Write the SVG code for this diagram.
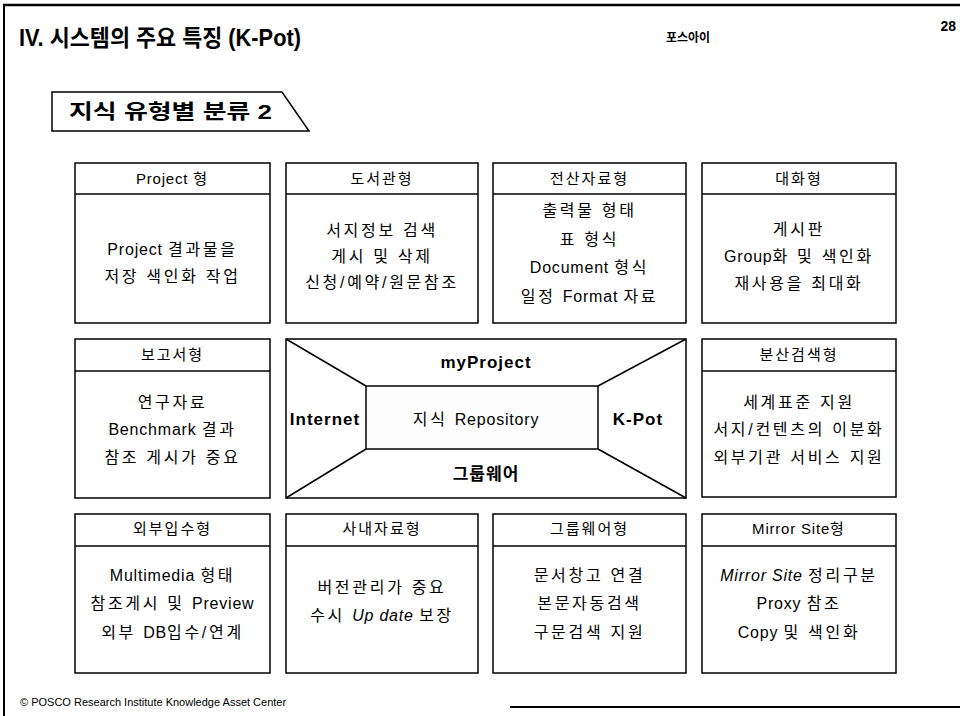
<svg xmlns="http://www.w3.org/2000/svg" width="960" height="716" viewBox="0 0 960 716">
<style>
text{font-family:"Liberation Sans","Noto Sans CJK KR",sans-serif;fill:#000}
.box{fill:#fff;stroke:#000;stroke-width:1.5}
.ln{stroke:#000;stroke-width:1.5;fill:none}
.h{font-size:15px;text-anchor:middle;letter-spacing:2px}
.b{font-size:16px;text-anchor:middle;letter-spacing:2.7px}
.l{letter-spacing:0.8px}
.i{font-style:italic}
.cb{font-size:17px;font-weight:bold;text-anchor:middle;letter-spacing:1px}
</style>
<rect width="960" height="716" fill="#fff"/>
<g id="frame">
<line x1="3" y1="5" x2="960" y2="5" stroke="#000" stroke-width="2.5"/>
<line x1="4" y1="4" x2="4" y2="716" stroke="#000" stroke-width="2"/>
<line x1="510" y1="707" x2="960" y2="707" stroke="#000" stroke-width="2"/>
</g>
<g id="title">
<text x="19" y="46" font-size="23" font-weight="bold" textLength="282" lengthAdjust="spacingAndGlyphs">IV. 시스템의 주요 특징 (K-Pot)</text>
<text x="688" y="42" font-size="12" font-weight="bold" text-anchor="middle">포스아이</text>
<text x="956" y="31" font-size="14" font-weight="bold" text-anchor="end">28</text>
</g>
<g id="heading">
<path d="M52 92 H282 L309 131 H52 Z" class="box"/>
<text x="69" y="119" font-size="20" font-weight="bold" textLength="203" lengthAdjust="spacingAndGlyphs">지식 유형별 분류 2</text>
</g>
<g id="n-project">
<rect class="box" x="75" y="163" width="195" height="160"/>
<line class="ln" x1="75" y1="194" x2="270" y2="194"/>
<text class="h" x="172.5" y="184"><tspan class="l">Project </tspan>형</text>
<text class="b" x="172.5" y="255"><tspan class="l">Project </tspan>결과물을</text>
<text class="b" x="172.5" y="282">저장 색인화 작업</text>
</g>
<g id="n-library">
<rect class="box" x="286" y="163" width="192" height="160"/>
<line class="ln" x1="286" y1="194" x2="478" y2="194"/>
<text class="h" x="382" y="184">도서관형</text>
<text class="b" x="382" y="236">서지정보 검색</text>
<text class="b" x="382" y="262">게시 및 삭제</text>
<text class="b" x="382" y="288">신청/예약/원문참조</text>
</g>
<g id="n-computer">
<rect class="box" x="493" y="163" width="193" height="160"/>
<line class="ln" x1="493" y1="194" x2="686" y2="194"/>
<text class="h" x="589.5" y="184">전산자료형</text>
<text class="b" x="589.5" y="216">출력물 형태</text>
<text class="b" x="589.5" y="245">표 형식</text>
<text class="b" x="589.5" y="273"><tspan class="l">Document </tspan>형식</text>
<text class="b" x="589.5" y="302">일정 <tspan class="l">Format </tspan>자료</text>
</g>
<g id="n-dialog">
<rect class="box" x="702" y="163" width="194" height="160"/>
<line class="ln" x1="702" y1="194" x2="896" y2="194"/>
<text class="h" x="799" y="184">대화형</text>
<text class="b" x="799" y="235">게시판</text>
<text class="b" x="799" y="262"><tspan class="l">Group</tspan>화 및 색인화</text>
<text class="b" x="799" y="289">재사용을 최대화</text>
</g>
<g id="n-report">
<rect class="box" x="75" y="339" width="195" height="159"/>
<line class="ln" x1="75" y1="371" x2="270" y2="371"/>
<text class="h" x="172.5" y="360">보고서형</text>
<text class="b" x="172.5" y="408">연구자료</text>
<text class="b" x="172.5" y="435"><tspan class="l">Benchmark </tspan>결과</text>
<text class="b" x="172.5" y="463">참조 게시가 중요</text>
</g>
<g id="n-center">
<rect class="box" x="286" y="339" width="400" height="159"/>
<rect class="box" x="366" y="386" width="232" height="63" style="fill:#fdfdfd"/>
<text class="cb" x="486" y="368">myProject</text>
<text class="cb" x="325" y="425">Internet</text>
<text x="476" y="425" font-size="16" text-anchor="middle" letter-spacing="2.7">지식 <tspan class="l">Repository</tspan></text>
<text class="cb" x="638" y="425" font-size="18">K-Pot</text>
<text class="cb" x="486" y="480">그룹웨어</text>
</g>
<g id="connectors">
<line class="ln" x1="286" y1="339" x2="366" y2="386"/>
<line class="ln" x1="286" y1="498" x2="366" y2="449"/>
<line class="ln" x1="686" y1="339" x2="598" y2="386"/>
<line class="ln" x1="686" y1="498" x2="598" y2="449"/>
</g>
<g id="n-distributed">
<rect class="box" x="702" y="339" width="194" height="158"/>
<line class="ln" x1="702" y1="371" x2="896" y2="371"/>
<text class="h" x="799" y="360">분산검색형</text>
<text class="b" x="799" y="408">세계표준 지원</text>
<text class="b" x="799" y="435">서지/컨텐츠의 이분화</text>
<text class="b" x="799" y="463">외부기관 서비스 지원</text>
</g>
<g id="n-external">
<rect class="box" x="75" y="514" width="195" height="159"/>
<line class="ln" x1="75" y1="546" x2="270" y2="546"/>
<text class="h" x="172.5" y="534">외부입수형</text>
<text class="b" x="172.5" y="581"><tspan class="l">Multimedia </tspan>형태</text>
<text class="b" x="172.5" y="609">참조게시 및 <tspan class="l">Preview</tspan></text>
<text class="b" x="172.5" y="638">외부 <tspan class="l">DB</tspan>입수/연계</text>
</g>
<g id="n-internal">
<rect class="box" x="286" y="514" width="192" height="159"/>
<line class="ln" x1="286" y1="546" x2="478" y2="546"/>
<text class="h" x="382" y="534">사내자료형</text>
<text class="b" x="382" y="593">버전관리가 중요</text>
<text class="b" x="382" y="621">수시 <tspan class="l i">Up date </tspan>보장</text>
</g>
<g id="n-groupware">
<rect class="box" x="493" y="514" width="193" height="159"/>
<line class="ln" x1="493" y1="546" x2="686" y2="546"/>
<text class="h" x="589.5" y="534">그룹웨어형</text>
<text class="b" x="589.5" y="581">문서창고 연결</text>
<text class="b" x="589.5" y="609">본문자동검색</text>
<text class="b" x="589.5" y="638">구문검색 지원</text>
</g>
<g id="n-mirror">
<rect class="box" x="702" y="514" width="194" height="159"/>
<line class="ln" x1="702" y1="546" x2="896" y2="546"/>
<text class="h" x="799" y="534"><tspan class="l">Mirror Site</tspan>형</text>
<text class="b" x="799" y="581"><tspan class="l i">Mirror Site </tspan>정리구분</text>
<text class="b" x="799" y="609"><tspan class="l">Proxy </tspan>참조</text>
<text class="b" x="799" y="638"><tspan class="l">Copy </tspan>및 색인화</text>
</g>
<g id="footer">
<text x="20" y="706" font-size="11">© POSCO Research Institute Knowledge Asset Center</text>
</g>
</svg>
